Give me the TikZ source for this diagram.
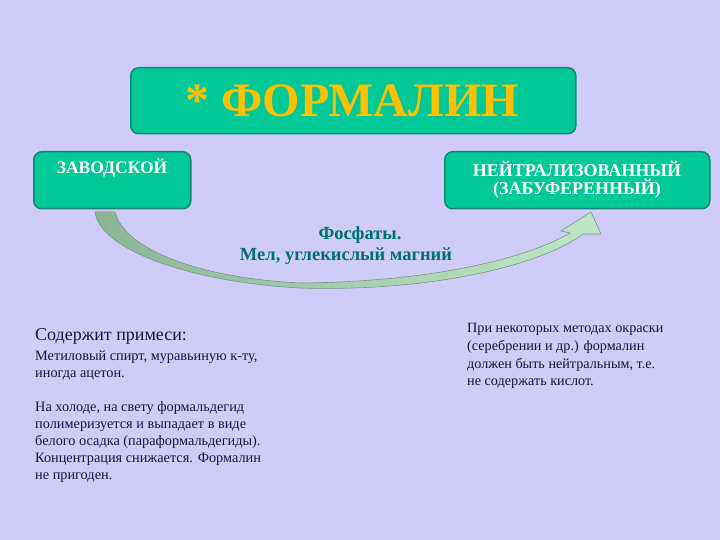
\documentclass[tikz,border=0pt]{standalone}
\usepackage{fontspec}
\setmainfont{Liberation Serif}
\definecolor{bg}{RGB}{207,204,250}
\definecolor{boxfill}{RGB}{0,200,150}
\definecolor{boxline}{RGB}{20,135,115}
\definecolor{gold}{RGB}{255,192,0}
\definecolor{teal}{RGB}{0,110,120}
\definecolor{navy}{RGB}{25,20,60}
\definecolor{arrdark}{RGB}{140,180,150}
\definecolor{arrlight}{RGB}{192,232,198}
\definecolor{arrline}{RGB}{120,150,130}
\tikzset{
  greenbox/.style={draw=boxline, line width=1.5pt, fill=boxfill, rounded corners=8pt, inner sep=0pt, anchor=north west},
  boxtext/.style={text=white, font=\bfseries\fontsize{18}{18}\selectfont, align=center, inner sep=0pt},
  bodytext/.style={text=navy, font=\fontsize{14.3}{17}\selectfont, align=left, inner sep=0pt, anchor=north west},
  midtext/.style={text=teal, font=\bfseries\fontsize{18.5}{22}\selectfont, inner sep=0pt}
}
\begin{document}
\begin{tikzpicture}[x=1pt,y=-1pt]
\fill[bg] (0,0) rectangle (720,540);
\useasboundingbox (0,0) rectangle (720,540);

% curved arrow
\path[draw=arrline, line width=0.6pt, left color=arrdark, right color=arrlight]
  (95,212) .. controls (100,250) and (190,282) .. (300,288)
  .. controls (430,292) and (540,266) .. (583,234)
  -- (601,234) -- (591,212) -- (561,231) -- (570,233)
  .. controls (520,262) and (420,282) .. (300,283)
  .. controls (200,278) and (125,250) .. (115,212) -- cycle;

% boxes
\node[greenbox, minimum width=445pt, minimum height=66pt] (top) at (130,67) {};
\node[text=gold, font=\bfseries\fontsize{48}{50}\selectfont, inner sep=0pt] (title) at (352,101) {* ФОРМАЛИН};

\node[greenbox, minimum width=157pt, minimum height=57pt] (left) at (33,151) {};
\node[boxtext, font=\bfseries\fontsize{17.5}{18}\selectfont] (lefttxt) at (112,168) {ЗАВОДСКОЙ};

\node[greenbox, minimum width=265pt, minimum height=57pt] (right) at (444,151) {};
\node[boxtext] (righttxt) at (577,180) {НЕЙТРАЛИЗОВАННЫЙ\\(ЗАБУФЕРЕННЫЙ)};

% middle text
\node[midtext] (phos) at (360,235) {Фосфаты.};
\node[midtext] (mel) at (346,256) {Мел, углекислый магний};

% left texts
\node[text=navy, font=\fontsize{18}{20}\selectfont, inner sep=0pt, anchor=west] (head) at (35,336) {Содержит примеси:};
\node[bodytext] (imp) at (35,350.5) {Метиловый спирт, муравьиную к-ту,\\иногда ацетон.\\[17.5pt]На холоде, на свету формальдегид\\полимеризуется и выпадает в виде\\белого осадка (параформальдегиды).\\Концентрация снижается. Формалин\\не пригоден.};

% right text
\node[bodytext, font=\fontsize{14.2}{17.8}\selectfont] (note) at (467,323) {При некоторых методах окраски\\(серебрении и др.) формалин\\должен быть нейтральным, т.е.\\не содержать кислот.};
\end{tikzpicture}
\end{document}
